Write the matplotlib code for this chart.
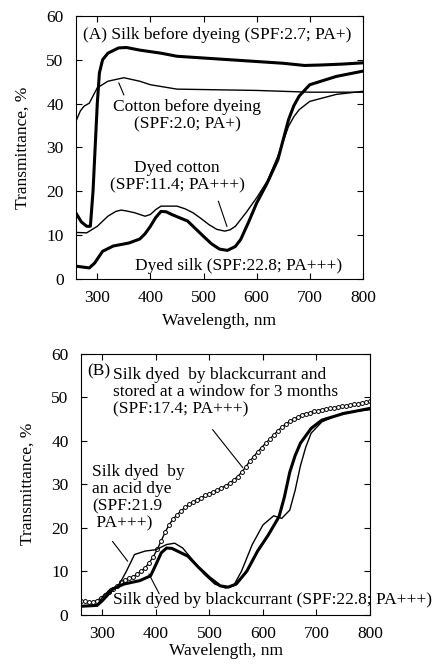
import matplotlib.pyplot as plt

plt.rcParams['font.family'] = ['Liberation Serif', 'DejaVu Serif']
plt.rcParams['font.size'] = 12.5

# ---- panel A data (wavelength nm, transmittance %) ----
silk_wl = [260, 270, 280, 287, 292, 296, 300, 304, 310, 320, 340, 355, 380, 420, 450,
           500, 550, 600, 650, 690, 720, 760, 800]
silk_t = [15.0, 13.0, 12.0, 12.0, 20.0, 30.0, 40.0, 47.0, 50.0, 51.5, 52.7, 52.8, 52.2,
          51.5, 50.8, 50.4, 50.0, 49.6, 49.2, 48.7, 48.8, 49.0, 49.3]

cotton_wl = [260, 268, 275, 285, 300, 320, 350, 380, 400, 450, 500, 600, 700, 800]
cotton_t = [36.0, 38.3, 39.4, 40.1, 43.6, 45.1, 45.9, 45.1, 44.3, 43.3, 43.2, 43.0, 42.6, 42.6]

dcotton_wl = [260, 280, 300, 320, 335, 345, 355, 370, 390, 400, 410, 420, 450, 465, 480,
              495, 510, 525, 540, 550, 560, 580, 600, 620, 640, 660, 670, 680, 700, 750, 800]
dcotton_t = [10.6, 10.5, 12.0, 14.3, 15.4, 15.7, 15.5, 15.1, 14.3, 14.7, 15.8, 16.6, 16.6,
             16.0, 15.1, 13.8, 12.4, 11.3, 10.9, 11.2, 12.0, 15.1, 18.5, 22.3, 28.0, 34.8,
             37.0, 38.6, 40.5, 42.1, 42.8]

dsilk_wl = [260, 285, 295, 310, 330, 360, 380, 390, 400, 410, 420, 430, 440, 470, 500, 515,
            530, 545, 560, 570, 585, 600, 620, 640, 660, 670, 680, 700, 750, 800]
dsilk_t = [2.9, 2.5, 3.6, 6.3, 7.5, 8.2, 9.1, 10.3, 12.0, 14.0, 15.4, 15.3, 14.7, 13.2, 9.7,
           8.0, 6.8, 6.5, 7.4, 9.0, 13.0, 17.3, 21.9, 27.2, 36.3, 39.5, 41.7, 44.3, 46.2, 47.4]

# ---- panel B data ----
stored_wl = [260 + 7.5 * i for i in range(73)]
stored_t = [3.1, 3.0, 2.9, 2.9, 3.2, 3.9, 4.6, 5.2, 5.9, 6.6, 7.4, 7.9, 8.3, 8.7, 9.3,
            10.0, 10.8, 11.9, 13.3, 15.0, 17.0, 19.0, 20.7, 22.0, 23.0, 23.9, 24.7, 25.3,
            25.9, 26.4, 26.9, 27.4, 27.8, 28.2, 28.6, 29.1, 29.6, 30.2, 30.9, 31.7, 32.7,
            33.9, 35.2, 36.3, 37.4, 38.4, 39.4, 40.3, 41.3, 42.2, 43.1, 43.8, 44.4, 44.9,
            45.4, 45.9, 46.2, 46.4, 46.7, 46.9, 47.1, 47.25, 47.4, 47.55, 47.7, 47.85, 48.0,
            48.15, 48.3, 48.45, 48.6, 48.8, 49.0]

bc_wl = [260, 290, 300, 320, 340, 370, 390, 400, 410, 420, 430, 440, 460, 480, 500, 520,
         535, 550, 570, 590, 610, 630, 640, 650, 660, 670, 690, 710, 750, 800]
bc_t = [1.9, 2.1, 3.2, 5.9, 7.0, 7.8, 8.9, 11.5, 14.2, 15.3, 15.2, 14.6, 13.4, 10.8, 8.5,
        6.6, 6.3, 7.0, 10.0, 14.6, 18.3, 22.5, 27.0, 32.7, 36.5, 39.4, 42.8, 44.7, 46.2, 47.4]

acid_wl = [260, 290, 300, 315, 330, 345, 360, 380, 400, 420, 435, 450, 470, 490, 510, 530,
           545, 560, 580, 600, 620, 635, 650, 660, 670, 680, 690, 710, 750, 800]
acid_t = [1.9, 2.1, 4.0, 5.9, 6.6, 10.0, 13.8, 14.6, 14.9, 16.1, 16.4, 15.3, 12.3, 9.3, 7.0,
          6.1, 6.6, 10.0, 16.1, 20.6, 22.7, 22.1, 24.0, 28.5, 34.2, 38.5, 41.7, 44.3, 46.4, 47.1]

thick = 2.2
thin = 1.0

fig = plt.figure(figsize=(4.32, 6.64), dpi=100)
axA = fig.add_axes([0.176, 0.580, 0.664, 0.396])
axB = fig.add_axes([0.1875, 0.0745, 0.669, 0.393])

for ax in (axA, axB):
    ax.set_xlim(260, 800)
    ax.set_ylim(0, 60)
    ax.set_xticks([300, 400, 500, 600, 700, 800])
    ax.set_yticks([0, 10, 20, 30, 40, 50, 60])
    ax.tick_params(direction='in', top=True, right=True, length=4, width=0.8)
    ax.tick_params(axis='y', pad=9)
    ax.tick_params(axis='x', pad=8)
    ax.set_ylabel('Transmittance, %', labelpad=11)
    for s in ax.spines.values():
        s.set_linewidth(0.8)

axA.set_xlabel('Wavelength, nm', labelpad=5)
axB.set_xlabel('Wavelength, nm', labelpad=1)

# panel A
axA.plot(silk_wl, silk_t, color='black', lw=thick)
axA.plot(cotton_wl, cotton_t, color='black', lw=thin)
axA.plot(dcotton_wl, dcotton_t, color='black', lw=thin)
axA.plot(dsilk_wl, dsilk_t, color='black', lw=thick)

axA.text(274, 55.7, '(A) Silk before dyeing (SPF:2.7; PA+)', va='center', ha='left')
axA.text(469, 37.3, 'Cotton before dyeing\n(SPF:2.0; PA+)', va='center', ha='center',
         linespacing=1.1)
axA.text(450, 23.3, 'Dyed cotton\n(SPF:11.4; PA+++)', va='center', ha='center',
         linespacing=1.1)
axA.text(566, 2.9, 'Dyed silk (SPF:22.8; PA+++)', va='center', ha='center')
axA.plot([340.6, 350], [44.7, 42.0], color='black', lw=0.8)
axA.plot([528, 544], [17.7, 12.0], color='black', lw=0.8)

# panel B
axB.plot(stored_wl, stored_t, color='black', lw=thin, marker='o', ms=2.8,
         mfc='white', mec='black', mew=0.7)
axB.plot(acid_wl, acid_t, color='black', lw=thin)
axB.plot(bc_wl, bc_t, color='black', lw=thick)

axB.text(272, 56, '(B)', va='center', ha='left')
axB.text(319, 51.1, 'Silk dyed  by blackcurrant and\nstored at a window for 3 months\n(SPF:17.4; PA+++)',
         va='center', ha='left', linespacing=1.1)
axB.text(281, 26.8, 'Silk dyed  by\nan acid dye\n(SPF:21.9\n PA+++)', va='center', ha='left',
         linespacing=1.1)
axB.text(319, 3.4, 'Silk dyed by blackcurrant (SPF:22.8; PA+++)', va='center', ha='left',
         clip_on=False)
axB.plot([506, 562], [42.5, 33.8], color='black', lw=0.8)
axB.plot([319, 347], [16.8, 12.3], color='black', lw=0.8)
axB.plot([387, 406], [9.3, 4.8], color='black', lw=0.8)

fig.savefig('out.png', dpi=100)
